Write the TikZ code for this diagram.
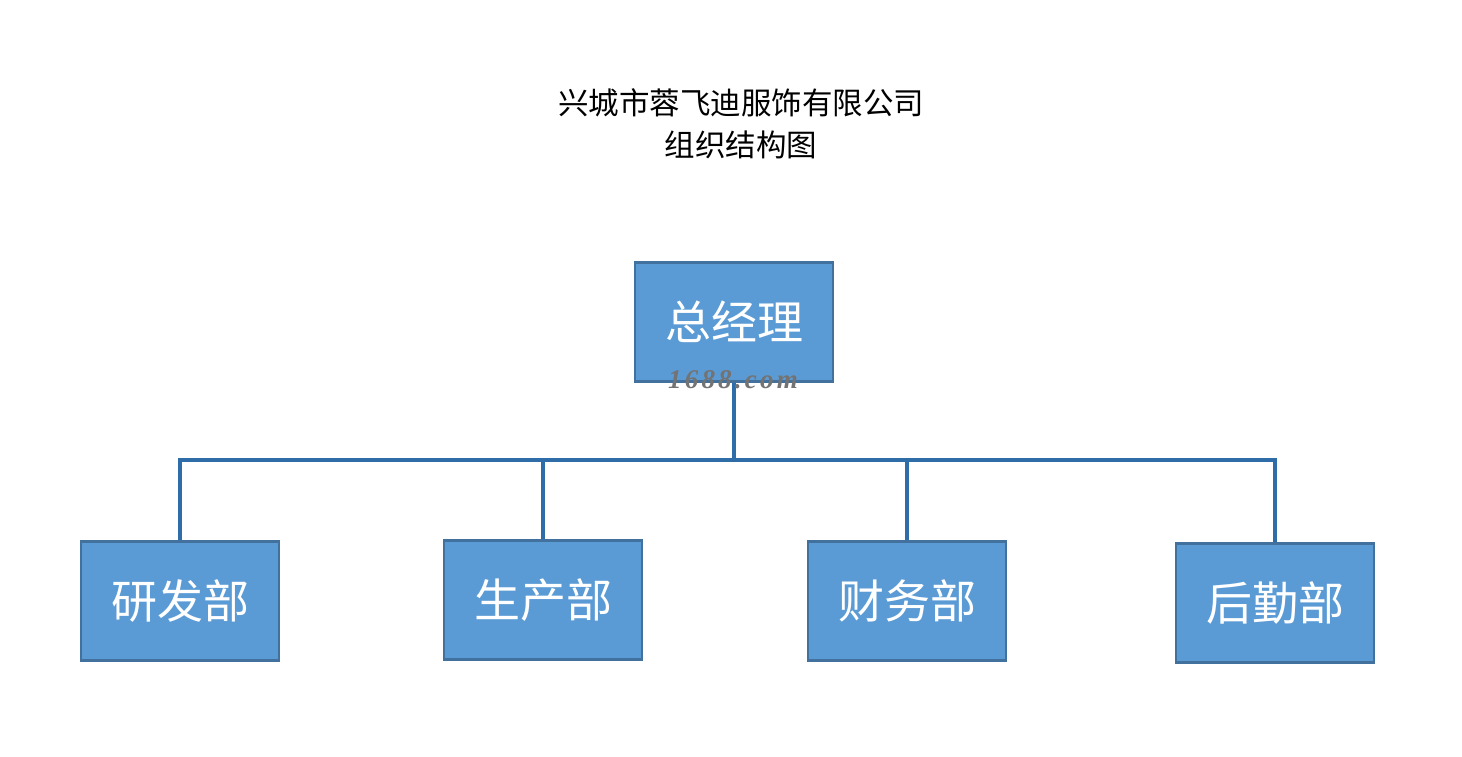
\documentclass[tikz,border=0pt]{standalone}
\usepackage{fontspec}
\newfontfamily\cjk{Noto Sans CJK SC}
\newfontfamily\wm[LetterSpace=12]{Liberation Serif}
\definecolor{boxfill}{HTML}{5B9BD5}
\definecolor{boxline}{HTML}{41719C}
\definecolor{conncol}{HTML}{2E6DA8}
\begin{document}
\begin{tikzpicture}[x=1pt,y=-1pt,
  orgbox/.style={draw=boxline, fill=boxfill, line width=2.5pt, minimum width=198pt, minimum height=119pt, inner sep=0pt, text=white, font=\cjk\fontsize{46}{50}\selectfont},
  conn/.style={draw=conncol, line width=3.5pt}]
\useasboundingbox (0,0) rectangle (1462,757);
\fill[white] (0,0) rectangle (1462,757);
\node[font=\cjk\fontsize{30.5}{42}\selectfont, align=center] (title) at (741,124) {兴城市蓉飞迪服饰有限公司\\组织结构图};
\node[orgbox] (top) at (734,322) {总经理};
\node[orgbox] (b1) at (180,601) {研发部};
\node[orgbox] (b2) at (543,600) {生产部};
\node[orgbox] (b3) at (907,601) {财务部};
\node[orgbox] (b4) at (1275,603) {后勤部};
\coordinate (bus) at (733,460);
\draw[conn] (top.south) -- (top.south |- bus);
\draw[conn] (b1.north) -- (b1.north |- bus) -- (b4.north |- bus) -- (b4.north);
\draw[conn] (b2.north) -- (b2.north |- bus);
\draw[conn] (b3.north) -- (b3.north |- bus);
\node[font=\wm\bfseries\itshape\fontsize{27}{30}\selectfont, text=black!55] (wmark) at (733,380) {1688.com};
\end{tikzpicture}
\end{document}
